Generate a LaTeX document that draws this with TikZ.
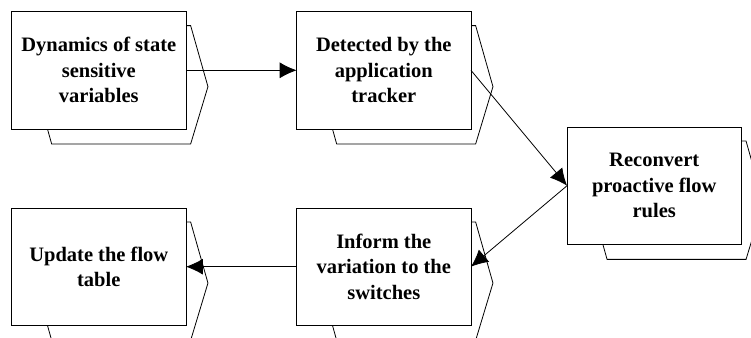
\documentclass[tikz,border=0pt]{standalone}
\usepackage{fontspec}
\setmainfont{Liberation Serif}
\usetikzlibrary{calc,arrows.meta}

\tikzset{
  stepbox/.style={draw=black, fill=white, line width=0.8pt, outer sep=0pt,
    minimum width=174.3pt, minimum height=117.3pt, align=center,
    font=\bfseries\fontsize{20.5}{25.5}\selectfont},
  backshape/.style={draw=black, fill=white, line width=0.8pt},
  flow/.style={draw=black, line width=0.8pt, -{Latex[length=17pt,width=16pt]}}
}

% hexagonal card drawn behind a step box
\newcommand\stepback[1]{%
  \path[backshape]
    ($(#1.north west)+(40,14)$) --
    ($(#1.north east)+(4.7,14)$) --
    ($(#1.north east)+(22,75)$) --
    ($(#1.south east)+(4.7,15)$) --
    ($(#1.south west)+(40,15)$) --
    ($(#1.north west)+(24,75)$) -- cycle;}

\begin{document}
\begin{tikzpicture}[x=1pt,y=-1pt]
  \clip (0,0) rectangle (751,337);

  % positions of the five steps
  \path
    (98.8,70.3)   coordinate (p1)
    (383.8,70.3)  coordinate (p2)
    (654.2,185.7) coordinate (p3)
    (98.8,266.7)  coordinate (p4)
    (383.8,266.7) coordinate (p5);

  % empty frames giving the anchors for the back cards
  \foreach \i in {1,...,5} {
    \node[stepbox, draw=none, fill=none] (h\i) at (p\i) {};
  }
  \foreach \i in {1,...,5} { \stepback{h\i} }

  \node[stepbox] (b1) at (p1) {Dynamics of state\\sensitive\\variables};
  \node[stepbox] (b2) at (p2) {Detected by the\\application\\tracker};
  \node[stepbox] (b3) at (p3) {Reconvert\\proactive flow\\rules};
  \node[stepbox] (b4) at (p4) {Update the flow\\table};
  \node[stepbox] (b5) at (p5) {Inform the\\variation to the\\switches};

  \draw[flow] (b1.east) -- (b2.west);
  \draw[flow] (b2.east) -- (b3.west);
  \draw[flow] (b3.west) -- (b5.east);
  \draw[flow] (b5.west) -- (b4.east);
\end{tikzpicture}
\end{document}
